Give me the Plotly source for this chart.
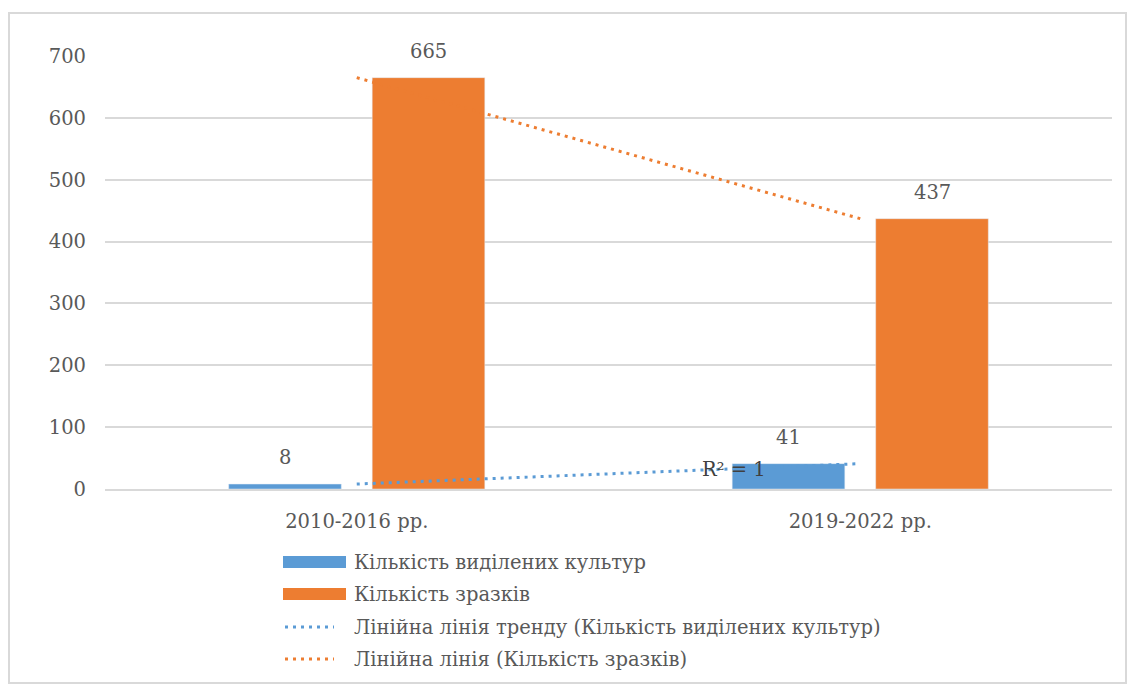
import numpy as np
import plotly.graph_objects as go

# Data
categories = ["2010-2016 рр.", "2019-2022 рр."]
cultures = [8, 41]
samples = [665, 437]
series_names = ["Кількість виділених культур", "Кількість зразків"]
trend_names = ["Лінійна лінія тренду (Кількість виділених культур)",
               "Лінійна лінія (Кількість зразків)"]
y_ticks = [0, 100, 200, 300, 400, 500, 600, 700]

BLUE = "#5b9bd5"
ORANGE = "#ed7d31"
TEXT = "#595959"
GRID = "#d9d9d9"
FONT = "DejaVu Serif"
FS = 19.5

W, H = 1127, 684
L, R, T, B = 105, 15, 56, 195
PW, PH = W - L - R, H - T - B


def px_x(px):
    return (px - L) / PW


def px_y(py):
    return (H - B - py) / PH


def linear_trend(values):
    idx = np.arange(len(values))
    k, b = np.polyfit(idx, values, 1)
    fitted = k * idx + b
    ss_res = np.sum((np.array(values) - fitted) ** 2)
    ss_tot = np.sum((np.array(values) - np.mean(values)) ** 2)
    r2 = 1 - ss_res / ss_tot if ss_tot else 1.0
    return fitted, r2


fig = go.Figure()
fig.add_trace(go.Bar(x=categories, y=cultures, name=series_names[0],
                     marker_color=BLUE, showlegend=False))
fig.add_trace(go.Bar(x=categories, y=samples, name=series_names[1],
                     marker_color=ORANGE, showlegend=False))

trend_c, r2_c = linear_trend(cultures)
trend_s, _ = linear_trend(samples)
dot = "3px,5px"
fig.add_trace(go.Scatter(x=categories, y=trend_c, mode="lines", name=trend_names[0],
                         line=dict(color=BLUE, width=3, dash=dot), showlegend=False))
fig.add_trace(go.Scatter(x=categories, y=trend_s, mode="lines", name=trend_names[1],
                         line=dict(color=ORANGE, width=3, dash=dot), showlegend=False))

annotations = []
# value labels above bars
for vals, shift in ((cultures, -72), (samples, 72)):
    for c, v in zip(categories, vals):
        annotations.append(dict(x=c, y=v, xref="x", yref="y", text=str(v),
                                showarrow=False, xshift=shift, yanchor="bottom", yshift=13,
                                font=dict(family=FONT, size=FS, color=TEXT)))

# R² label near the culture trend line
annotations.append(dict(x=0.75, y=32, xref="x", yref="y",
                        text="R² = 1" if round(r2_c, 6) == 1 else f"R² = {r2_c:.4f}",
                        showarrow=False, font=dict(family=FONT, size=FS, color="#404040")))

shapes = []
# outer frame
shapes.append(dict(type="rect", xref="paper", yref="paper",
                   x0=px_x(9), x1=px_x(1126), y0=px_y(683), y1=px_y(13),
                   line=dict(color=GRID, width=2), fillcolor="rgba(0,0,0,0)", layer="below"))

# legend
leg_rows = [562, 594, 627, 659]
for i, yy in enumerate(leg_rows):
    if i < 2:
        color = BLUE if i == 0 else ORANGE
        shapes.append(dict(type="rect", xref="paper", yref="paper",
                           x0=px_x(283), x1=px_x(346), y0=px_y(yy + 6), y1=px_y(yy - 6),
                           fillcolor=color, line=dict(width=0)))
        label = series_names[i]
    else:
        color = BLUE if i == 2 else ORANGE
        shapes.append(dict(type="line", xref="paper", yref="paper",
                           x0=px_x(285), x1=px_x(334), y0=px_y(yy), y1=px_y(yy),
                           line=dict(color=color, width=3, dash=dot)))
        label = trend_names[i - 2]
    annotations.append(dict(x=px_x(352), y=px_y(yy), xref="paper", yref="paper",
                            text=label, showarrow=False, xanchor="left", yanchor="middle",
                            font=dict(family=FONT, size=FS, color=TEXT)))

fig.update_layout(
    width=W, height=H,
    margin=dict(l=L, r=R, t=T, b=B),
    paper_bgcolor="white", plot_bgcolor="white",
    barmode="group", bargap=0.43, bargroupgap=0.215,
    font=dict(family=FONT, size=FS, color=TEXT),
    annotations=annotations, shapes=shapes,
    showlegend=False,
    xaxis=dict(showgrid=False, showline=True, linecolor=GRID, linewidth=2,
               tickfont=dict(family=FONT, size=FS, color=TEXT),
               ticklabelstandoff=14, fixedrange=True),
    yaxis=dict(range=[0, 700], tickvals=y_ticks, showgrid=True, gridcolor=GRID,
               gridwidth=2, zeroline=False, showline=False,
               tickfont=dict(family=FONT, size=FS, color=TEXT),
               ticklabelstandoff=18, fixedrange=True),
)

fig.write_html("out.html")
